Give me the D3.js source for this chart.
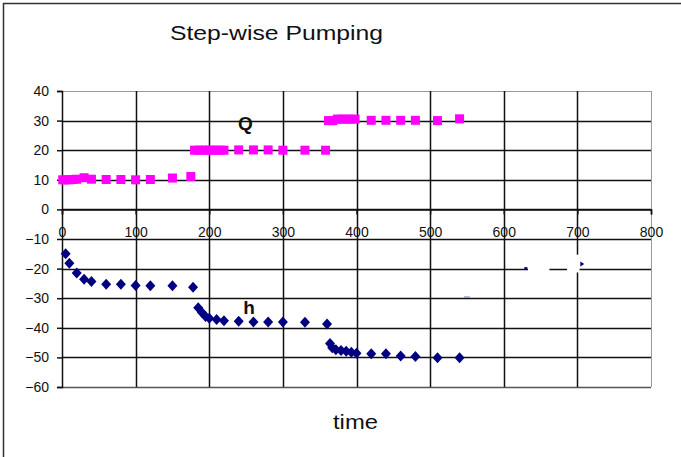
<!DOCTYPE html>
<html>
<head>
<meta charset="utf-8">
<script src="https://cdn.jsdelivr.net/npm/d3@7"></script>
<style>
  html, body { margin: 0; padding: 0; background: #fff; }
  svg { display: block; font-family: "Liberation Sans", Arial, sans-serif; }
</style>
</head>
<body>
<svg id="chart" width="681" height="457"></svg>
<script>
// ---- data ----
const title = "Step-wise Pumping";
const xLabel = "time";
const xTicks = [0, 100, 200, 300, 400, 500, 600, 700, 800];
const yTicks = [40, 30, 20, 10, 0, -10, -20, -30, -40, -50, -60];

const qTime  = [1, 5, 10, 15, 20, 30, 40, 60, 80, 100, 120, 150, 175,
                180, 185, 190, 195, 200, 205, 210, 215, 220, 240, 260, 280, 300, 330, 358,
                362, 368, 374, 380, 386, 392, 398, 420, 440, 460, 480, 510, 540];
const qValue = [10, 10, 10, 10.1, 10.2, 10.7, 10.2, 10.1, 10.1, 10, 10.1, 10.6, 11.1,
                20, 20, 20, 20, 20, 20, 20, 20, 20, 20.1, 20.1, 20.1, 20, 20, 20,
                30, 30, 30.5, 30.5, 30.5, 30.5, 30.5, 30.1, 30.1, 30.1, 30.1, 30, 30.6];

const hTime  = [5, 10, 20, 30, 40, 60, 80, 100, 120, 150, 178,
                185, 190, 195, 200, 210, 220, 240, 260, 280, 300, 330, 360,
                364, 367, 372, 379, 386, 393, 400, 420, 440, 460, 480, 510, 540];
const hValue = [-15, -18.2, -21.5, -23.6, -24.4, -25.3, -25.3, -25.7, -25.8, -25.8, -26.3,
                -33.2, -34.8, -36.2, -36.8, -37.2, -37.6, -37.8, -38, -38, -38, -38.1, -38.7,
                -45.3, -46.7, -47.4, -47.7, -47.9, -48.3, -48.6, -48.8, -48.8, -49.5, -49.7, -50.1, -50.1];

const seriesLabels = [{text: "Q", t: 249, v: 26.7}, {text: "h", t: 254, v: -35.2}];

// ---- layout ----
const svg = d3.select("#chart");
const x = d3.scaleLinear().domain([0, 800]).range([62, 651]);
const y = d3.scaleLinear().domain([-60, 40]).range([387, 91]);

svg.append("rect").attr("width", 681).attr("height", 457).attr("fill", "#fff");
// outer chart frame
svg.append("rect").attr("x", 3.5).attr("y", 3.5).attr("width", 700).attr("height", 470)
  .attr("fill", "none").attr("stroke", "#333").attr("stroke-width", 1.5);

// title
svg.append("text").attr("x", 170).attr("y", 40)
  .attr("font-size", 21).attr("fill", "#111")
  .attr("textLength", 213).attr("lengthAdjust", "spacingAndGlyphs")
  .text(title);

// horizontal gridlines
svg.append("g").selectAll("line").data(yTicks).join("line")
  .attr("x1", x(0)).attr("x2", x(800))
  .attr("y1", d => Math.round(y(d)) + 0.5).attr("y2", d => Math.round(y(d)) + 0.5)
  .attr("stroke", d => d === 40 ? "#999" : (d === -60 ? "#555" : "#111"))
  .attr("stroke-width", d => d === 40 ? 1 : 1.5);

// vertical gridlines
svg.append("g").selectAll("line").data(xTicks.filter(d => d > 0)).join("line")
  .attr("y1", y(40)).attr("y2", y(-60))
  .attr("x1", d => Math.round(x(d)) + 0.5).attr("x2", d => Math.round(x(d)) + 0.5)
  .attr("stroke", d => d === 800 ? "#999" : "#111")
  .attr("stroke-width", d => d === 800 ? 1 : 1.5);

// y axis
const yAxis = d3.axisLeft(y).tickValues(yTicks).tickSize(5).tickPadding(8).tickFormat(d3.format("d"));
const gy = svg.append("g").attr("transform", `translate(${x(0)},0)`).call(yAxis);
gy.select(".domain").attr("stroke", "#111").attr("stroke-width", 1.5);
gy.selectAll(".tick line").attr("stroke", "#111").attr("stroke-width", 1.5);
gy.selectAll(".tick text").attr("font-size", 14).attr("fill", "#111")
  .attr("font-family", "'Liberation Sans', Arial, sans-serif");

// x axis (at y = 0)
const xAxis = d3.axisBottom(x).tickValues(xTicks).tickSize(5).tickPadding(13).tickFormat(d3.format("d"));
const gx = svg.append("g").attr("transform", `translate(0,${Math.round(y(0)) + 0.5})`).call(xAxis);
gx.select(".domain").attr("stroke", "#111").attr("stroke-width", 1.5);
gx.selectAll(".tick line").attr("stroke", "#111").attr("stroke-width", 1.5);
gx.selectAll(".tick text").attr("font-size", 14).attr("fill", "#111")
  .attr("font-family", "'Liberation Sans', Arial, sans-serif");

// small rendering artefacts near the -20 gridline
const gapSpans = [{t0: 633, t1: 662, v0: -19.4, v1: -21.0}, {t0: 686, t1: 703, v0: -15.3, v1: -21.3}];
svg.append("g").selectAll("rect").data(gapSpans).join("rect")
  .attr("x", d => x(d.t0)).attr("width", d => x(d.t1) - x(d.t0))
  .attr("y", d => y(d.v0)).attr("height", d => y(d.v1) - y(d.v0))
  .attr("fill", "#fff");
svg.append("path")
  .attr("d", `M${x(704)},${y(-17.6)} l4,2.5 l-4,2.5 Z`).attr("fill", "#000080");
svg.append("rect").attr("x", x(628)).attr("y", y(-19.5)).attr("width", 3).attr("height", 2).attr("fill", "#000080");
svg.append("line").attr("x1", x(546)).attr("x2", x(554)).attr("y1", y(-29.6)).attr("y2", y(-29.6))
  .attr("stroke", "#6070e0").attr("stroke-width", 1);

// Q series: magenta squares
const qData = qTime.map((t, i) => ({t, v: qValue[i]}));
svg.append("g").selectAll("rect").data(qData).join("rect")
  .attr("x", d => x(d.t) - 4.5).attr("y", d => y(d.v) - 4.5)
  .attr("width", 9).attr("height", 9).attr("fill", "#FF00FF");

// h series: navy diamonds
const hData = hTime.map((t, i) => ({t, v: hValue[i]}));
svg.append("g").selectAll("path").data(hData).join("path")
  .attr("d", d => `M${x(d.t)},${y(d.v) - 5.5} l5,5.5 l-5,5.5 l-5,-5.5 Z`)
  .attr("fill", "#000080");

// series labels
svg.append("g").selectAll("text").data(seriesLabels).join("text")
  .attr("x", d => x(d.t)).attr("y", d => y(d.v))
  .attr("text-anchor", "middle").attr("font-size", 19).attr("font-weight", "bold")
  .attr("fill", "#111").text(d => d.text);

// x axis title
svg.append("text").attr("x", 333).attr("y", 429)
  .attr("font-size", 20).attr("fill", "#111")
  .attr("textLength", 45).attr("lengthAdjust", "spacingAndGlyphs")
  .text(xLabel);
</script>
</body>
</html>
